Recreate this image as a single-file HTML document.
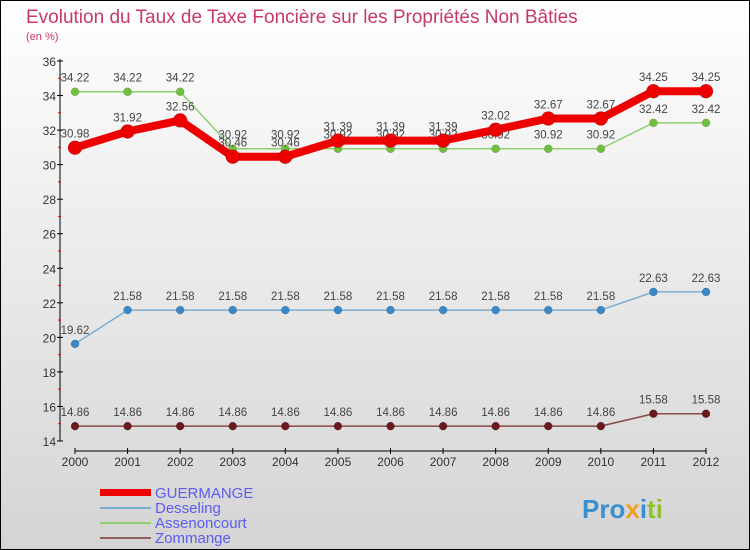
<!DOCTYPE html>
<html><head><meta charset="utf-8"><style>
body{margin:0}
svg{display:block;font-family:"Liberation Sans",sans-serif}
</style></head><body>
<svg width="750" height="550" xmlns="http://www.w3.org/2000/svg">
<defs><linearGradient id="bg" x1="0" y1="0" x2="0" y2="1"><stop offset="0" stop-color="#ffffff"/><stop offset="1" stop-color="#d4d4d4"/></linearGradient></defs>
<rect x="0.5" y="0.5" width="749" height="549" fill="url(#bg)" stroke="#000"/>
<text x="26" y="23" font-size="19" fill="#c8386a">Evolution du Taux de Taxe Foncière sur les Propriétés Non Bâties</text>
<text x="26" y="40" font-size="11" fill="#c8386a">(en %)</text>
<g id="axes"></g>
<g id="series"></g>
<g>
<rect x="100" y="489" width="51" height="7" fill="#e00"/>
<text x="155" y="498" font-size="15" fill="#5c5cf0">GUERMANGE</text>
<line x1="100" y1="508" x2="151" y2="508" stroke="#7aaed0" stroke-width="2"/>
<text x="155" y="513" font-size="15" fill="#5c5cf0">Desseling</text>
<line x1="100" y1="523" x2="151" y2="523" stroke="#90d070" stroke-width="2"/>
<text x="155" y="528" font-size="15" fill="#5c5cf0">Assenoncourt</text>
<line x1="100" y1="538" x2="151" y2="538" stroke="#906060" stroke-width="2"/>
<text x="155" y="543" font-size="15" fill="#5c5cf0">Zommange</text>
</g>
<text x="582" y="518" font-size="26" font-weight="bold"><tspan fill="#3a8fd0">Pro</tspan><tspan fill="#f0a020">x</tspan><tspan fill="#3a8fd0">i</tspan><tspan fill="#90c030">ti</tspan></text>
</svg>
<script>
const years=[2000,2001,2002,2003,2004,2005,2006,2007,2008,2009,2010,2011,2012];
const yTicks=[14,16,18,20,22,24,26,28,30,32,34,36];
const guermange=[30.98,31.92,32.56,30.46,30.46,31.39,31.39,31.39,32.02,32.67,32.67,34.25,34.25];
const desseling=[19.62,21.58,21.58,21.58,21.58,21.58,21.58,21.58,21.58,21.58,21.58,22.63,22.63];
const assenoncourt=[34.22,34.22,34.22,30.92,30.92,30.92,30.92,30.92,30.92,30.92,30.92,32.42,32.42];
const zommange=[14.86,14.86,14.86,14.86,14.86,14.86,14.86,14.86,14.86,14.86,14.86,15.58,15.58];
const NS="http://www.w3.org/2000/svg";
const X=i=>75+i*(706-75)/(years.length-1);
const Y=v=>441-(v-14)*(380/22);
function mk(t,a,p){const e=document.createElementNS(NS,t);for(const k in a)e.setAttribute(k,a[k]);p.appendChild(e);return e;}
const ax=document.getElementById('axes');
let l=mk('line',{x1:60,y1:59,x2:60,y2:441,stroke:'#000'},ax);


l=mk('line',{x1:75,y1:451,x2:706,y2:451,stroke:'#000'},ax);


yTicks.forEach((t,i)=>{
 const y=Y(t);
 mk('line',{x1:57,y1:y,x2:63,y2:y,stroke:'#000'},ax);
 if(i<yTicks.length-1)mk('line',{x1:58,y1:Y(t+1),x2:61,y2:Y(t+1),stroke:'#e00'},ax);
 const tx=mk('text',{x:56,y:y+5,'font-size':12,fill:'#333','text-anchor':'end'},ax);tx.textContent=t;
 
 
});
years.forEach((yr,i)=>{
 const x=X(i);
 mk('line',{x1:x,y1:448,x2:x,y2:454,stroke:'#000'},ax);
 const tx=mk('text',{x:x,y:466,'font-size':12,fill:'#333','text-anchor':'middle'},ax);tx.textContent=yr;
 
 
});
const sg=document.getElementById('series');
function draw(vals,color,w,r,name,dot){
 const g=mk('g',{},sg);
 
 
 const p=mk('polyline',{points:vals.map((v,i)=>X(i)+','+Y(v)).join(' '),fill:'none',stroke:color,'stroke-width':w,'stroke-linejoin':'round'},g);
 
 
 vals.forEach((v,i)=>{
  const c=mk('circle',{cx:X(i),cy:Y(v),r:r,fill:dot,stroke:'#0004','stroke-width':0.5},g);
  
  
  const t=mk('text',{x:X(i),y:Y(v)-10,'font-size':11.5,fill:'#444','text-anchor':'middle'},g);
  t.textContent=v.toFixed(2);
  
  
 });
}
draw(zommange,'#8a4848',1.5,4,'zommange','#6a1a1a');
draw(desseling,'#7aaed0',1.5,4,'desseling','#3a88c8');
draw(assenoncourt,'#90d070',1.5,4,'assenoncourt','#70c040');
draw(guermange,'#ee0000',8,7,'guermange','#ee0000');
</script>
</body></html>
